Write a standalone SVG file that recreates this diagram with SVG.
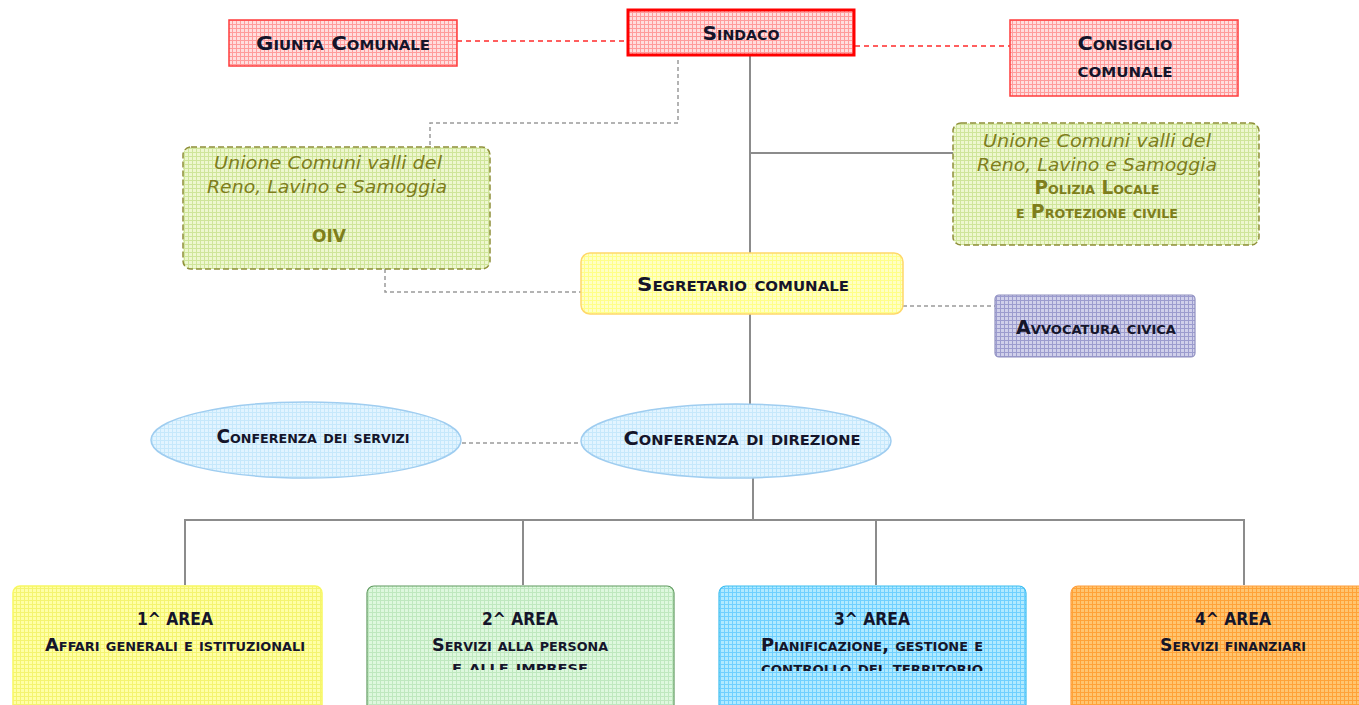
<svg xmlns="http://www.w3.org/2000/svg" width="1359" height="705" viewBox="0 0 1359 705">
<style>
.t{font-family:"DejaVu Sans Condensed","DejaVu Sans",sans-serif;font-weight:bold;font-variant:small-caps;fill:#15152a;text-anchor:middle}
.ti{font-family:"DejaVu Sans","Noto Sans",sans-serif;font-style:italic;fill:#7e7e1c;text-anchor:middle}
.to{font-family:"DejaVu Sans Condensed","DejaVu Sans",sans-serif;font-weight:bold;font-variant:small-caps;fill:#7e7e1c;text-anchor:middle}
.ta{font-family:"DejaVu Sans Condensed","DejaVu Sans",sans-serif;font-weight:bold;fill:#15152a;text-anchor:middle}
.solid{stroke:#8c8c8c;stroke-width:2;fill:none}
.dash{stroke:#9a9a9a;stroke-width:1.5;stroke-dasharray:4 3;fill:none}
.rdash{stroke:#ff2a2a;stroke-width:1.5;stroke-dasharray:5 4;fill:none}
</style>
<defs>
<pattern id="pPink" width="4" height="4" patternUnits="userSpaceOnUse"><rect width="4" height="4" fill="#ffdede"/><path d="M0 0.5H4M0.5 0V4" stroke="#ff9c9c" stroke-width="1"/></pattern>
<pattern id="pGreen" width="4" height="4" patternUnits="userSpaceOnUse"><rect width="4" height="4" fill="#eef7cf"/><path d="M0 0.5H4M0.5 0V4" stroke="#cfe59a" stroke-width="1"/></pattern>
<pattern id="pYellow" width="4" height="4" patternUnits="userSpaceOnUse"><rect width="4" height="4" fill="#ffffc4"/><path d="M0 0.5H4M0.5 0V4" stroke="#ffff88" stroke-width="1"/></pattern>
<pattern id="pPurple" width="4" height="4" patternUnits="userSpaceOnUse"><rect width="4" height="4" fill="#d0d0ea"/><path d="M0 0.5H4M0.5 0V4" stroke="#9c9cce" stroke-width="1"/></pattern>
<pattern id="pBlueL" width="4" height="4" patternUnits="userSpaceOnUse"><rect width="4" height="4" fill="#e2f4ff"/><path d="M0 0.5H4M0.5 0V4" stroke="#c6e8fb" stroke-width="1"/></pattern>
<pattern id="pA1" width="4" height="4" patternUnits="userSpaceOnUse"><rect width="4" height="4" fill="#ffffa6"/><path d="M0 0.5H4M0.5 0V4" stroke="#f4f470" stroke-width="1"/></pattern>
<pattern id="pA2" width="4" height="4" patternUnits="userSpaceOnUse"><rect width="4" height="4" fill="#def8de"/><path d="M0 0.5H4M0.5 0V4" stroke="#bfe8bf" stroke-width="1"/></pattern>
<pattern id="pA3" width="4" height="4" patternUnits="userSpaceOnUse"><rect width="4" height="4" fill="#b0eaff"/><path d="M0 0.5H4M0.5 0V4" stroke="#6fd0ff" stroke-width="1"/></pattern>
<pattern id="pA4" width="4" height="4" patternUnits="userSpaceOnUse"><rect width="4" height="4" fill="#ffc570"/><path d="M0 0.5H4M0.5 0V4" stroke="#ffa238" stroke-width="1"/></pattern>
<clipPath id="c2"><rect x="367" y="585" width="307" height="85"/></clipPath>
<clipPath id="c3"><rect x="719" y="585" width="307" height="86"/></clipPath>
</defs>
<rect width="1359" height="705" fill="#ffffff"/>

<g id="connectors">
<path class="rdash" d="M457 41H627"/>
<path class="rdash" d="M855 46H1010"/>
<path class="solid" d="M750 56V253"/>
<path class="solid" d="M750 153H953"/>
<path class="dash" d="M678 60V123H430V147"/>
<path class="dash" d="M385 269V292H581"/>
<path class="dash" d="M903 306H995"/>
<path class="solid" d="M750 314V406"/>
<path class="dash" d="M462 443H581"/>
<path class="solid" d="M753 478V520M185 520H1244M185 519V585M523 519V585M876 519V585M1244 519V585"/>
</g>

<g id="giunta">
<rect x="229" y="20" width="228" height="46" fill="url(#pPink)" stroke="#ff3c3c" stroke-width="1.5"/>
<text class="t" x="343" y="50" font-size="20" textLength="174" lengthAdjust="spacingAndGlyphs">Giunta Comunale</text>
</g>
<g id="sindaco">
<rect x="628" y="10" width="226" height="45" fill="url(#pPink)" stroke="#ff0000" stroke-width="3"/>
<text class="t" x="741" y="40" font-size="20" textLength="77" lengthAdjust="spacingAndGlyphs">Sindaco</text>
</g>
<g id="consiglio">
<rect x="1010" y="20" width="228" height="76" fill="url(#pPink)" stroke="#ff3c3c" stroke-width="1.5"/>
<text class="t" x="1125" y="50" font-size="20" textLength="95" lengthAdjust="spacingAndGlyphs">Consiglio</text>
<text class="t" x="1125" y="77" font-size="20" textLength="95" lengthAdjust="spacingAndGlyphs">comunale</text>
</g>

<g id="unione-polizia">
<rect x="953" y="123" width="306" height="122" rx="8" fill="url(#pGreen)" stroke="#8f8f3a" stroke-width="1.5" stroke-dasharray="6 3"/>
<text class="ti" x="1097" y="147" font-size="17" textLength="228" lengthAdjust="spacingAndGlyphs">Unione Comuni valli del</text>
<text class="ti" x="1097" y="171" font-size="17" textLength="240" lengthAdjust="spacingAndGlyphs">Reno, Lavino e Samoggia</text>
<text class="to" x="1097" y="194" font-size="19" textLength="125" lengthAdjust="spacingAndGlyphs">Polizia Locale</text>
<text class="to" x="1097" y="218" font-size="19" textLength="162" lengthAdjust="spacingAndGlyphs">e Protezione civile</text>
</g>

<g id="unione-oiv">
<rect x="183" y="147" width="307" height="122" rx="8" fill="url(#pGreen)" stroke="#8f8f3a" stroke-width="1.5" stroke-dasharray="6 3"/>
<text class="ti" x="328" y="169" font-size="17" textLength="228" lengthAdjust="spacingAndGlyphs">Unione Comuni valli del</text>
<text class="ti" x="327" y="193" font-size="17" textLength="240" lengthAdjust="spacingAndGlyphs">Reno, Lavino e Samoggia</text>
<text class="to" x="329" y="242" font-size="18" textLength="34" lengthAdjust="spacingAndGlyphs">OIV</text>
</g>

<g id="segretario">
<rect x="581" y="253" width="322" height="61" rx="9" fill="url(#pYellow)" stroke="#ffd86a" stroke-width="1.5"/>
<text class="t" x="743" y="291" font-size="20" textLength="212" lengthAdjust="spacingAndGlyphs">Segretario comunale</text>
</g>

<g id="avvocatura">
<rect x="995" y="295" width="200" height="62" rx="4" fill="url(#pPurple)" stroke="#9090c0" stroke-width="1.2"/>
<text class="t" x="1096" y="334" font-size="19" textLength="160" lengthAdjust="spacingAndGlyphs">Avvocatura civica</text>
</g>

<g id="conf-servizi">
<ellipse cx="306" cy="440" rx="155" ry="38" fill="url(#pBlueL)" stroke="#9fcdf0" stroke-width="1.5"/>
<text class="t" x="313" y="443" font-size="19" textLength="193" lengthAdjust="spacingAndGlyphs">Conferenza dei servizi</text>
</g>
<g id="conf-direzione">
<ellipse cx="736" cy="441" rx="155" ry="37" fill="url(#pBlueL)" stroke="#9fcdf0" stroke-width="1.5"/>
<text class="t" x="742" y="445" font-size="20" textLength="237" lengthAdjust="spacingAndGlyphs">Conferenza di direzione</text>
</g>

<g id="area1">
<rect x="13" y="586" width="309" height="140" rx="7" fill="url(#pA1)" stroke="#f8f860" stroke-width="1.5"/>
<text class="ta" x="175" y="625" font-size="18" textLength="76" lengthAdjust="spacingAndGlyphs">1^ AREA</text>
<text class="t" x="175" y="651" font-size="18" textLength="260" lengthAdjust="spacingAndGlyphs">Affari generali e istituzionali</text>
</g>
<g id="area2">
<rect x="367" y="586" width="307" height="140" rx="7" fill="url(#pA2)" stroke="#5f9a5f" stroke-width="1.2"/>
<text class="ta" x="520" y="625" font-size="18" textLength="76" lengthAdjust="spacingAndGlyphs">2^ AREA</text>
<text class="t" x="520" y="651" font-size="18" textLength="176" lengthAdjust="spacingAndGlyphs">Servizi alla persona</text>
<text class="t" x="520" y="673" font-size="18" textLength="136" lengthAdjust="spacingAndGlyphs" clip-path="url(#c2)">e alle imprese</text>
</g>
<g id="area3">
<rect x="719" y="586" width="307" height="140" rx="7" fill="url(#pA3)" stroke="#3cbdf0" stroke-width="1.2"/>
<text class="ta" x="872" y="625" font-size="18" textLength="76" lengthAdjust="spacingAndGlyphs">3^ AREA</text>
<text class="t" x="872" y="651" font-size="18" textLength="222" lengthAdjust="spacingAndGlyphs">Pianificazione, gestione e</text>
<text class="t" x="872" y="674" font-size="18" textLength="222" lengthAdjust="spacingAndGlyphs" clip-path="url(#c3)">controllo del territorio</text>
</g>
<g id="area4">
<rect x="1071" y="586" width="300" height="140" rx="7" fill="url(#pA4)" stroke="#ff9d3a" stroke-width="1.2"/>
<text class="ta" x="1233" y="625" font-size="18" textLength="76" lengthAdjust="spacingAndGlyphs">4^ AREA</text>
<text class="t" x="1233" y="651" font-size="18" textLength="146" lengthAdjust="spacingAndGlyphs">Servizi finanziari</text>
</g>
</svg>
